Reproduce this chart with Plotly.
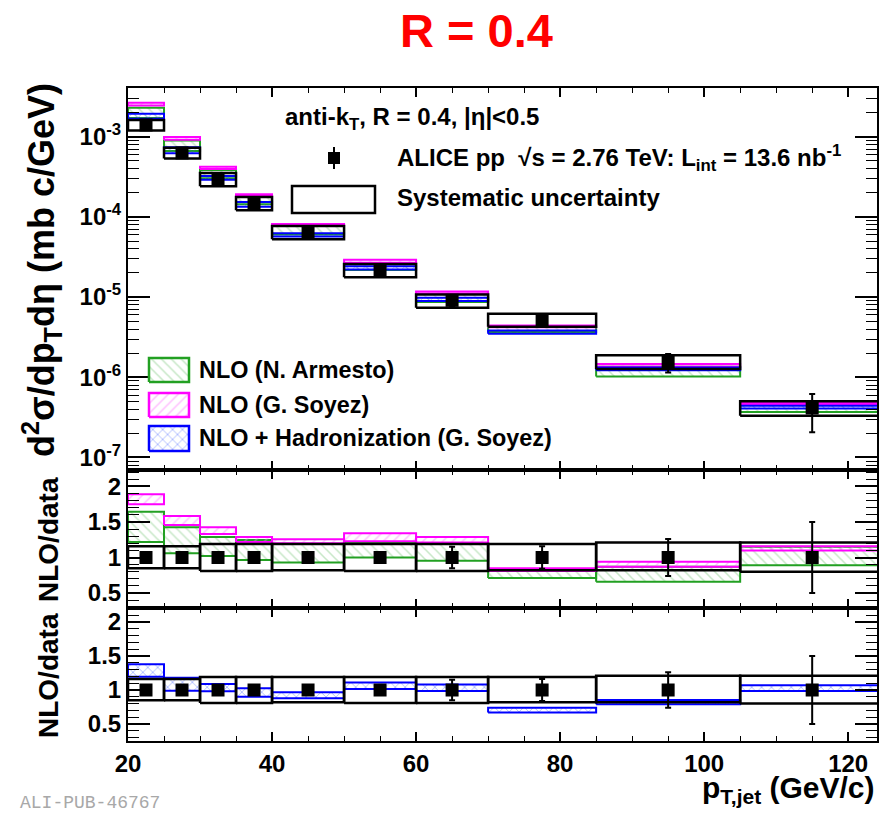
import plotly.graph_objects as go

# ---------------- data ----------------
bin_lo = [20, 25, 30, 35, 40, 50, 60, 70, 85, 105]
bin_hi = [25, 30, 35, 40, 50, 60, 70, 85, 105, 125]
pt_center = [22.5, 27.5, 32.5, 37.5, 45, 55, 65, 77.5, 95, 115]

# ALICE data, d2sigma/dpT deta (mb c/GeV)
data_xsec = [1.40e-3, 6.27e-4, 2.97e-4, 1.49e-4, 6.49e-5, 2.18e-5, 9.1e-6, 5.19e-6, 1.55e-6, 4.14e-7]
data_stat = [1.4e-5, 2.5e-5, 5.9e-6, 4.5e-6, 2.6e-6, 1.3e-6, 1.37e-6, 8.3e-7, 4.0e-7, 2.07e-7]
data_sys_lo = [1.19e-3, 5.33e-4, 2.41e-4, 1.21e-4, 5.26e-5, 1.77e-5, 7.37e-6, 4.26e-6, 1.27e-6, 3.31e-7]
data_sys_hi = [1.62e-3, 7.27e-4, 3.53e-4, 1.77e-4, 7.72e-5, 2.59e-5, 1.08e-5, 6.18e-6, 1.88e-6, 5.01e-7]

# NLO predictions in the spectrum panel (band low / high)
armesto_lo = [1.71e-3, 6.65e-4, 3.03e-4, 1.44e-4, 6.04e-5, 2.18e-5, 8.69e-6, 3.68e-6, 1.02e-6, 3.68e-7]
armesto_hi = [2.30e-3, 8.93e-4, 3.83e-4, 1.86e-4, 7.72e-5, 2.64e-5, 1.09e-5, 4.26e-6, 1.35e-6, 4.76e-7]
soyez_lo = [2.45e-3, 9.14e-4, 3.95e-4, 1.82e-4, 7.79e-5, 2.68e-5, 1.10e-5, 4.20e-6, 1.35e-6, 4.55e-7]
soyez_hi = [2.65e-3, 9.94e-4, 4.23e-4, 1.92e-4, 8.15e-5, 2.92e-5, 1.17e-5, 4.41e-6, 1.46e-6, 4.80e-7]
soyezhad_lo = [1.67e-3, 6.21e-4, 2.91e-4, 1.34e-4, 5.69e-5, 2.21e-5, 8.96e-6, 3.48e-6, 1.22e-6, 4.08e-7]
soyezhad_hi = [1.93e-3, 7.40e-4, 3.24e-4, 1.53e-4, 6.27e-5, 2.42e-5, 9.83e-6, 3.84e-6, 1.32e-6, 4.43e-7]

# Ratio panels (NLO/data)
ratio_data = [1, 1, 1, 1, 1, 1, 1, 1, 1, 1]
ratio_stat = [0.01, 0.04, 0.02, 0.03, 0.04, 0.06, 0.15, 0.16, 0.26, 0.50]
ratio_sys_lo = [0.85, 0.85, 0.81, 0.81, 0.82, 0.81, 0.81, 0.82, 0.82, 0.80]
ratio_sys_hi = [1.16, 1.16, 1.19, 1.19, 1.19, 1.19, 1.19, 1.19, 1.21, 1.21]

armesto_r_lo = [1.22, 1.06, 1.02, 0.965, 0.93, 1.00, 0.955, 0.71, 0.66, 0.89]
armesto_r_hi = [1.645, 1.425, 1.29, 1.246, 1.19, 1.21, 1.20, 0.82, 0.87, 1.15]
soyez_r_lo = [1.75, 1.457, 1.33, 1.22, 1.20, 1.23, 1.21, 0.81, 0.87, 1.10]
soyez_r_hi = [1.89, 1.585, 1.425, 1.29, 1.256, 1.34, 1.29, 0.85, 0.94, 1.16]
soyezhad_r_lo = [1.196, 0.99, 0.98, 0.90, 0.877, 1.015, 0.985, 0.67, 0.79, 0.985]
soyezhad_r_hi = [1.378, 1.18, 1.09, 1.025, 0.966, 1.11, 1.08, 0.74, 0.853, 1.07]

legend_names = ["NLO (N. Armesto)", "NLO (G. Soyez)", "NLO + Hadronization (G. Soyez)"]

# ---------------- style ----------------
FONT = "Liberation Sans"
GREEN, GREEN_H = "#22a022", "#8fd08f"
MAG, MAG_H = "#ff00ff", "#ff80ff"
BLUE, BLUE_H = "#0000ff", "#4060ff"

# frame in pixels: x 128..877, y 88..741
L, R, T, B = 128, 877, 88, 741
W, H = 890, 815


def fx(px):
    return (px - L) / (R - L)


def fy(py):
    return (B - py) / (B - T)


def boxes(xlo, xhi, ylo, yhi):
    xs, ys = [], []
    for a, b, c, d in zip(xlo, xhi, ylo, yhi):
        xs += [a, b, b, a, a, None]
        ys += [c, c, d, d, c, None]
    return xs, ys


fig = go.Figure()


def band(lo, hi, color, hcol, shape, xa, ya, width=2):
    xs, ys = boxes(bin_lo, bin_hi, lo, hi)
    fig.add_trace(go.Scatter(
        x=xs, y=ys, mode="lines", line=dict(color=color, width=width),
        fill="toself", fillcolor="rgba(255,255,255,0)",
        fillpattern=dict(shape=shape, fgcolor=hcol, bgcolor="rgba(255,255,255,0)",
                         size=7, solidity=0.22),
        xaxis=xa, yaxis=ya, showlegend=False, hoverinfo="skip"))


def data_marks(vals, slo, shi, stat, xa, ya):
    xs, ys = boxes(bin_lo, bin_hi, slo, shi)
    fig.add_trace(go.Scatter(x=xs, y=ys, mode="lines",
                             line=dict(color="black", width=2.5),
                             xaxis=xa, yaxis=ya, showlegend=False, hoverinfo="skip"))
    fig.add_trace(go.Scatter(
        x=pt_center, y=vals, mode="markers",
        marker=dict(symbol="square", size=13, color="black"),
        error_y=dict(type="data", array=stat, color="black", thickness=2, width=3),
        xaxis=xa, yaxis=ya, showlegend=False))


# top panel
band(armesto_lo, armesto_hi, GREEN, GREEN_H, "\\", "x", "y")
band(soyez_lo, soyez_hi, MAG, MAG_H, "/", "x", "y")
band(soyezhad_lo, soyezhad_hi, BLUE, BLUE_H, "x", "x", "y")
data_marks(data_xsec, data_sys_lo, data_sys_hi, data_stat, "x", "y")

# ratio panel 1
band(armesto_r_lo, armesto_r_hi, GREEN, GREEN_H, "\\", "x2", "y2")
band(soyez_r_lo, soyez_r_hi, MAG, MAG_H, "/", "x2", "y2")
data_marks(ratio_data, ratio_sys_lo, ratio_sys_hi, ratio_stat, "x2", "y2")

# ratio panel 2
band(soyezhad_r_lo, soyezhad_r_hi, BLUE, BLUE_H, "x", "x3", "y3")
data_marks(ratio_data, ratio_sys_lo, ratio_sys_hi, ratio_stat, "x3", "y3")

# ---------------- legend (drawn on a hidden paper-like axis) ----------------
fig.add_trace(go.Scatter(
    x=[fx(334)], y=[fy(158)], mode="markers",
    marker=dict(symbol="square", size=12, color="black"),
    error_y=dict(type="constant", value=11 / (B - T), color="black", thickness=2, width=0),
    xaxis="x4", yaxis="y4", showlegend=False, hoverinfo="skip"))
leg_rows = [(358, 382, GREEN, GREEN_H, "\\"), (393, 417, MAG, MAG_H, "/"), (426, 451, BLUE, BLUE_H, "x")]
for (y0, y1, c, hc, sh) in leg_rows:
    fig.add_trace(go.Scatter(
        x=[fx(149), fx(189), fx(189), fx(149), fx(149)],
        y=[fy(y1), fy(y1), fy(y0), fy(y0), fy(y1)],
        mode="lines", line=dict(color=c, width=2.5), fill="toself",
        fillcolor="rgba(255,255,255,0)",
        fillpattern=dict(shape=sh, fgcolor=hc, bgcolor="rgba(255,255,255,0)", size=7, solidity=0.22),
        xaxis="x4", yaxis="y4", showlegend=False, hoverinfo="skip"))

shapes = [dict(type="rect", xref="paper", yref="paper", x0=fx(292), x1=fx(375),
               y0=fy(213), y1=fy(186), line=dict(color="black", width=2.5))]

LEGF = dict(family=FONT, size=24, color="black", weight="bold")
LEGF2 = dict(family=FONT, size=23.4, color="black", weight="bold")
annotations = [
    dict(text="anti-k<sub>T</sub>, R = 0.4, |η|&lt;0.5", x=fx(283), y=fy(118), font=LEGF),
    dict(text="ALICE pp  √s = 2.76 TeV: L<sub>int</sub> = 13.6 nb<sup>-1</sup>", x=fx(395), y=fy(158), font=LEGF),
    dict(text="Systematic uncertainty", x=fx(395), y=fy(198), font=LEGF),
    dict(text=legend_names[0], x=fx(197), y=fy(370), font=LEGF2),
    dict(text=legend_names[1], x=fx(197), y=fy(405), font=LEGF2),
    dict(text=legend_names[2], x=fx(197), y=fy(438), font=LEGF2),
]
for a in annotations:
    a.update(xref="paper", yref="paper", xanchor="left", yanchor="middle", showarrow=False)

annotations += [
    dict(text="R = 0.4", x=fx(476), y=fy(30), xref="paper", yref="paper", showarrow=False,
         xanchor="center", yanchor="middle", font=dict(family=FONT, size=47, color="#ff0000", weight="bold")),
    dict(text="d<sup>2</sup>σ/dp<sub>T</sub>dη (mb c/GeV)", x=fx(41), y=fy(270), textangle=-90,
         xref="paper", yref="paper", showarrow=False, xanchor="center", yanchor="middle",
         font=dict(family=FONT, size=36, color="black", weight="bold")),
    dict(text="NLO/data", x=fx(48), y=fy(540), textangle=-90, xref="paper", yref="paper",
         showarrow=False, xanchor="center", yanchor="middle",
         font=dict(family=FONT, size=28, color="black", weight="bold")),
    dict(text="NLO/data", x=fx(48), y=fy(676), textangle=-90, xref="paper", yref="paper",
         showarrow=False, xanchor="center", yanchor="middle",
         font=dict(family=FONT, size=28, color="black", weight="bold")),
    dict(text="p<sub>T,jet</sub> (GeV/c)", x=fx(877), y=fy(789), xref="paper", yref="paper",
         showarrow=False, xanchor="right", yanchor="middle",
         font=dict(family=FONT, size=30, color="black", weight="bold")),
    dict(text="ALI-PUB-46767", x=fx(18), y=fy(803), xref="paper", yref="paper",
         showarrow=False, xanchor="left", yanchor="middle",
         font=dict(family="Liberation Mono", size=18, color="#a8a8a8")),
]

# ---------------- axes ----------------
TICKF = dict(family=FONT, size=24, color="black", weight="bold")
common_x = dict(range=[20, 124], ticks="inside", ticklen=9, tickwidth=1.5, tickcolor="black",
                tickmode="linear", tick0=20, dtick=20,
                minor=dict(ticks="inside", tickmode="linear", tick0=20, dtick=5, ticklen=5,
                           tickwidth=1.2, tickcolor="black", showgrid=False),
                showline=True, linewidth=2, linecolor="black", mirror="allticks",
                showgrid=False, zeroline=False, tickfont=TICKF)

minor_log = [m * 10.0 ** k for k in range(-8, -1) for m in range(2, 10)]
yaxis_top = dict(type="log", range=[-7.156, -2.393], domain=[fy(470), 1],
                 tickmode="array", tickvals=[1e-7, 1e-6, 1e-5, 1e-4, 1e-3],
                 ticktext=["10<sup>-7</sup>", "10<sup>-6</sup>", "10<sup>-5</sup>", "10<sup>-4</sup>", "10<sup>-3</sup>"],
                 ticks="inside", ticklen=22, tickwidth=1.5, tickcolor="black",
                 minor=dict(ticks="inside", tickmode="array", tickvals=minor_log, ticklen=11,
                            tickwidth=1.2, tickcolor="black", showgrid=False),
                 showline=True, linewidth=2, linecolor="black", mirror="allticks",
                 showgrid=False, zeroline=False, tickfont=TICKF, anchor="x")


def ratio_axis(rng, dom, anchor):
    return dict(range=rng, domain=dom, tickmode="array", tickvals=[0.5, 1, 1.5, 2],
                ticktext=["0.5", "1", "1.5", "2"], ticks="inside", ticklen=22, tickwidth=1.5,
                tickcolor="black",
                minor=dict(ticks="inside", tickmode="linear", tick0=0, dtick=0.1, ticklen=11,
                           tickwidth=1.2, tickcolor="black", showgrid=False),
                showline=True, linewidth=2, linecolor="black", mirror="allticks",
                showgrid=False, zeroline=False, tickfont=TICKF, anchor=anchor)


fig.update_layout(
    width=W, height=H,
    margin=dict(l=L, r=W - R, t=T, b=H - B),
    paper_bgcolor="white", plot_bgcolor="rgba(0,0,0,0)",
    font=dict(family=FONT, color="black"),
    xaxis=dict(common_x, showticklabels=False, anchor="y"),
    xaxis2=dict(common_x, showticklabels=False, anchor="y2", matches="x"),
    xaxis3=dict(common_x, showticklabels=True, anchor="y3", matches="x"),
    yaxis=yaxis_top,
    yaxis2=ratio_axis([0.289, 2.232], [fy(608), fy(470)], "x2"),
    yaxis3=ratio_axis([0.25, 2.206], [0, fy(608)], "x3"),
    xaxis4=dict(domain=[0, 1], range=[0, 1], visible=False, anchor="y4", fixedrange=True),
    yaxis4=dict(domain=[0, 1], range=[0, 1], visible=False, anchor="x4", fixedrange=True),
    shapes=shapes, annotations=annotations, showlegend=False,
)

fig.write_html("out.html", config={"displayModeBar": False},
               post_script="document.body.style.margin='0';")
